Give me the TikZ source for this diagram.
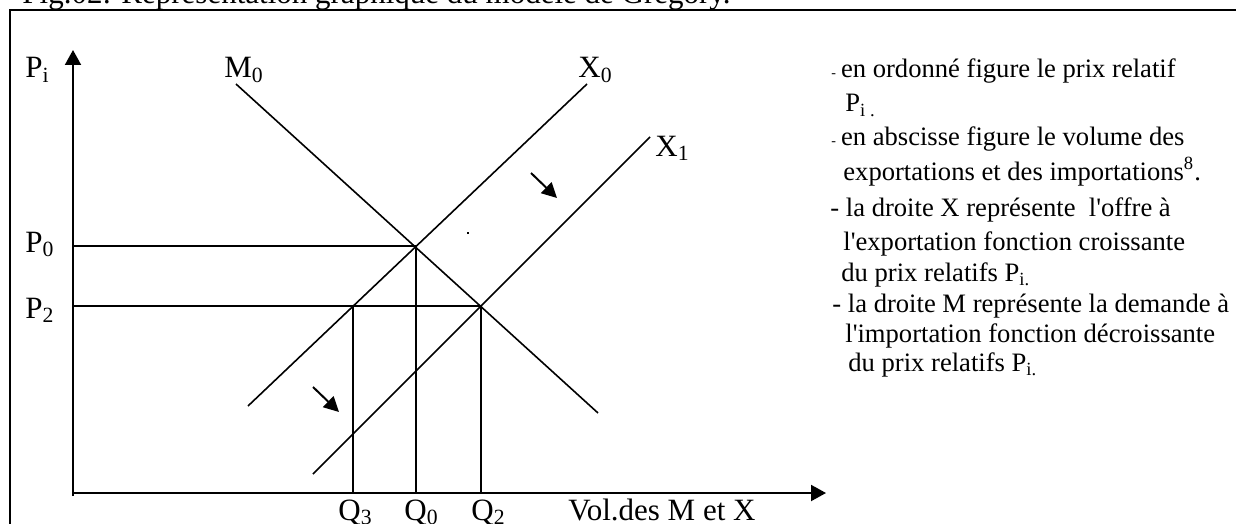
\documentclass[tikz,border=0pt]{standalone}
\usepackage{fontspec}
\setmainfont{Liberation Serif}[Ligatures=TeXOff]
\usetikzlibrary{arrows.meta}
\newcommand{\lowdash}{{\fontsize{7pt}{7pt}\selectfont -}\hspace{2.5pt}}
\begin{document}
\begin{tikzpicture}[x=0.5pt,y=-0.5pt,
  axis/.style={line width=1pt,-{Triangle[length=7.5pt,width=8pt]}},
  curve/.style={line width=0.8pt},
  guide/.style={line width=0.8pt},
  shiftarrow/.style={line width=1pt,-{Triangle[length=7.5pt,width=7.5pt]}},
  lbl/.style={anchor=base west,inner sep=0pt,font=\fontsize{15.5pt}{18pt}\selectfont},
  txt/.style={anchor=base west,inner sep=0pt,font=\fontsize{13.3pt}{16pt}\selectfont},
  ]
\useasboundingbox (0,0) rectangle (1236,524);
\clip (0,0) rectangle (1236,524);
% frame (partly outside the view)
\draw[line width=1.3pt] (10,560) -- (10,10) -- (1260,10);
\node[lbl] (title) at (22,4) {Fig.02: Représentation graphique du modèle de Gregory.};

% axes
\coordinate (O) at (73,493);
\coordinate (ybot) at (73,496);
\coordinate (ytop) at (73,50);
\coordinate (xend) at (826,493);
\draw[axis] (ybot) -- (ytop);
\draw[axis] (O) -- (xend);

% key points
\coordinate (A) at (416,246);
\coordinate (B) at (481,306);
\coordinate (C) at (353,306);
\coordinate (P0y) at (73,246);
\coordinate (P2y) at (73,306);
\coordinate (Q3x) at (353,493);
\coordinate (Q0x) at (416,493);
\coordinate (Q2x) at (481,493);

% curves
\coordinate (M0a) at (236,84);
\coordinate (M0b) at (598,413);
\coordinate (X0a) at (248,406);
\coordinate (X0b) at (587,84);
\coordinate (X1a) at (313,474);
\coordinate (X1b) at (650,137);
\draw[curve] (M0a) -- (M0b);
\draw[curve] (X0a) -- (X0b);
\draw[curve] (X1a) -- (X1b);

% guides
\draw[guide] (P0y) -- (A);
\draw[guide] (P2y) -- (B);
\draw[guide] (C) -- (Q3x);
\draw[guide] (A) -- (Q0x);
\draw[guide] (B) -- (Q2x);

% shift arrows
\coordinate (a1s) at (531,173);
\coordinate (a1e) at (557,198);
\coordinate (a2s) at (313,387);
\coordinate (a2e) at (339,412);
\draw[shiftarrow] (a1s) -- (a1e);
\draw[shiftarrow] (a2s) -- (a2e);
\fill (467,232) rectangle (469,234);

% labels
\node[lbl] (Pi) at (25,78) {P\textsubscript{i}};
\node[lbl] (M0) at (224,78) {M\textsubscript{0}};
\node[lbl] (X0) at (578,78) {X\textsubscript{0}};
\node[lbl] (X1) at (655,156) {X\textsubscript{1}};
\node[lbl] (P0) at (25,252) {P\textsubscript{0}};
\node[lbl] (P2) at (25,318) {P\textsubscript{2}};
\node[lbl] (Q3) at (338,520) {Q\textsubscript{3}};
\node[lbl] (Q0) at (404,520) {Q\textsubscript{0}};
\node[lbl] (Q2) at (471,520) {Q\textsubscript{2}};
\node[lbl] (vol) at (568,520) {Vol.des M et X};

% explanatory text
\node[txt] (L1) at (831,78) {\lowdash en ordonné figure le prix relatif};
\node[txt] (L2) at (845,112) {P\textsubscript{i .}};
\node[txt] (L3) at (831,146) {\lowdash en abscisse figure le volume des};
\node[txt] (L4) at (843,180) {exportations et des importations\textsuperscript{8}.};
\node[txt] (L5) at (830,216) {- la droite X représente\ \ l'offre à};
\node[txt] (L6) at (843,250) {l'exportation fonction croissante};
\node[txt] (L7) at (841,281) {du prix relatifs P\textsubscript{i.}};
\node[txt] (L8) at (832,312) {- la droite M représente la demande à};
\node[txt] (L9) at (845,342) {l'importation fonction décroissante};
\node[txt] (L10) at (848,371) {du prix relatifs P\textsubscript{i.}};
\end{tikzpicture}
\end{document}
